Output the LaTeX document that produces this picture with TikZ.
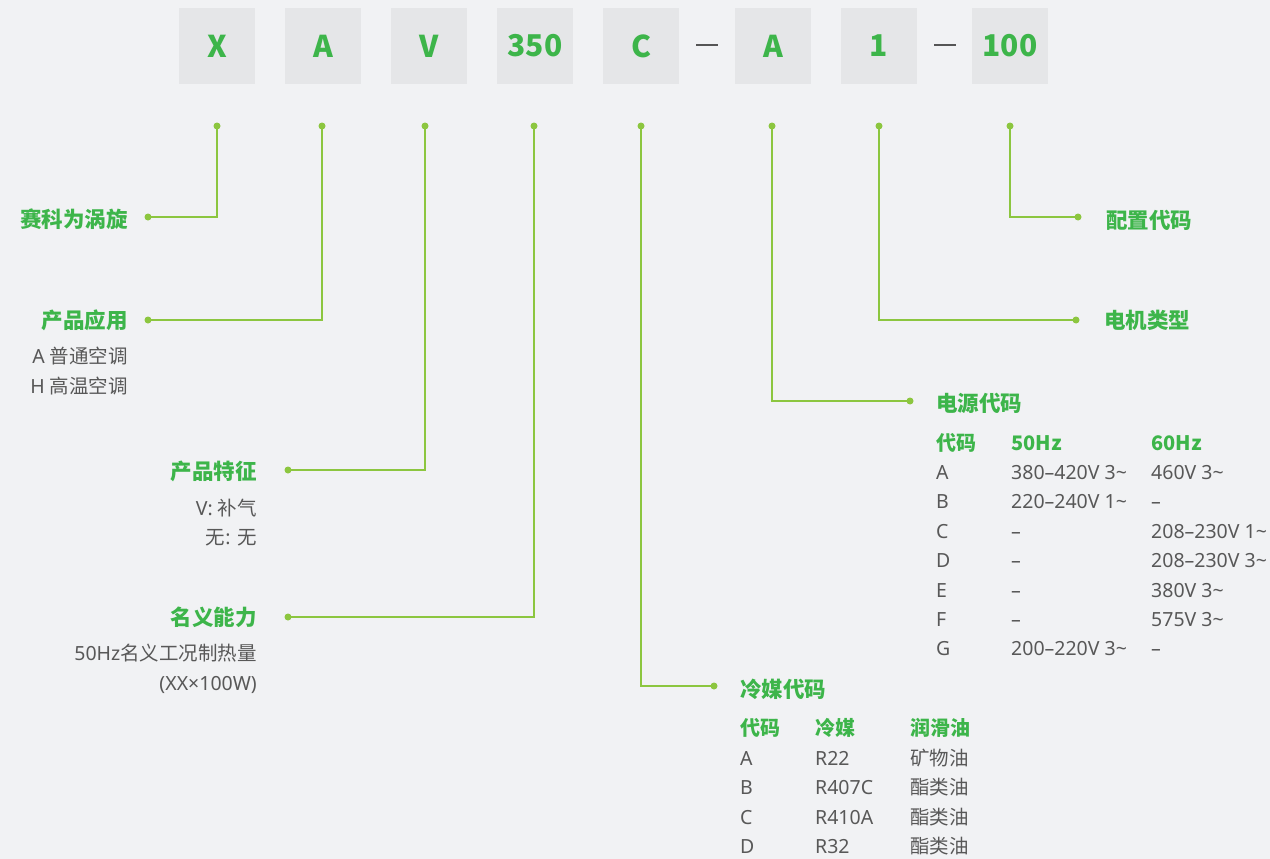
\documentclass[tikz,border=0pt]{standalone}
\usepackage{fontspec}
\setmainfont{Noto Sans CJK SC}
\newfontfamily\latin{Noto Sans}
\definecolor{bg}{HTML}{F1F2F4}
\definecolor{boxc}{HTML}{E5E6E8}
\definecolor{gtext}{HTML}{3DB54A}
\definecolor{gline}{HTML}{8CC63F}
\definecolor{graytext}{HTML}{585858}
\definecolor{dashc}{HTML}{555555}
\newcommand{\tld}{\textasciitilde}
\tikzset{
  codebox/.style={fill=boxc, minimum width=76pt, minimum height=76pt, inner sep=0pt, text=gtext, font=\fontsize{30}{30}\selectfont\bfseries},
  dotn/.style={circle, fill=gline, inner sep=0pt, minimum size=7pt},
  conn/.style={gline, line width=1.2pt},
  title/.style={inner sep=0pt, text=gtext, font=\fontsize{21.5}{24}\selectfont\bfseries},
  sub/.style={inner sep=0pt, text=graytext, font=\fontsize{19.5}{22}\selectfont},
  thead/.style={inner sep=0pt, text=gtext, font=\fontsize{20}{22}\selectfont\bfseries, anchor=base west},
  tcell/.style={inner sep=0pt, text=graytext, font=\latin\fontsize{19.5}{22}\selectfont, anchor=base west},
  tcellc/.style={tcell, font=\fontsize{19.5}{22}\selectfont},
}
\begin{document}
\begin{tikzpicture}[x=1pt,y=-1pt]
\fill[bg] (0,0) rectangle (1270,859);
\useasboundingbox (0,0) rectangle (1270,859);
% code boxes
\node[codebox] (b1) at (217,46) {X};
\node[codebox] (b2) at (323,46) {A};
\node[codebox] (b3) at (429,46) {V};
\node[codebox] (b4) at (535,46) {350};
\node[codebox] (b5) at (641,46) {C};
\node[codebox] (b6) at (773,46) {A};
\node[codebox] (b7) at (879,46) {1};
\node[codebox] (b8) at (1010,46) {100};
\draw[dashc, line width=2.2pt] (696,45) coordinate (da1) -- (718,45) coordinate (da2);
\draw[dashc, line width=2.2pt] (934,45) coordinate (db1) -- (956,45) coordinate (db2);
% top dots
\node[dotn] (t1) at (217,126) {};
\node[dotn] (t2) at (322,126) {};
\node[dotn] (t3) at (425,126) {};
\node[dotn] (t4) at (534,126) {};
\node[dotn] (t5) at (641,126) {};
\node[dotn] (t6) at (772,126) {};
\node[dotn] (t7) at (879,126) {};
\node[dotn] (t8) at (1010,126) {};
% end dots
\node[dotn] (e1) at (148,217) {};
\node[dotn] (e2) at (148,320) {};
\node[dotn] (e3) at (288,470) {};
\node[dotn] (e4) at (288,617) {};
\node[dotn] (e5) at (714,686) {};
\node[dotn] (e6) at (910,401) {};
\node[dotn] (e7) at (1076,320) {};
\node[dotn] (e8) at (1078,217) {};
% connectors
\draw[conn] (t1.center) |- (e1.center);
\draw[conn] (t2.center) |- (e2.center);
\draw[conn] (t3.center) |- (e3.center);
\draw[conn] (t4.center) |- (e4.center);
\draw[conn] (t5.center) |- (e5.center);
\draw[conn] (t6.center) |- (e6.center);
\draw[conn] (t7.center) |- (e7.center);
\draw[conn] (t8.center) |- (e8.center);
% left labels
\node[title, anchor=base east] (l1) at (128,227) {赛科为涡旋};
\node[title, anchor=base east] (l2) at (128,328) {产品应用};
\node[sub, anchor=base east] (l2a) at (128,363) {{\latin A }普通空调};
\node[sub, anchor=base east] (l2b) at (128,393) {{\latin H }高温空调};
\node[title, anchor=base east] (l3) at (257,479) {产品特征};
\node[sub, anchor=base east] (l3a) at (257,515) {{\latin V: }补气};
\node[sub, anchor=base east] (l3b) at (257,544) {无{\latin : }无};
\node[title, anchor=base east] (l4) at (257,625) {名义能力};
\node[sub, anchor=base east] (l4a) at (257,660) {{\latin 50Hz}名义工况制热量};
\node[sub, anchor=base east, font=\latin\fontsize{19.5}{22}\selectfont] (l4b) at (257,690) {(XX×100W)};
% right labels
\node[title, anchor=base west] (l8) at (1106,228) {配置代码};
\node[title, anchor=base west] (l7) at (1104,328) {电机类型};
\node[title, anchor=base west] (l6) at (936,411) {电源代码};
\node[title, anchor=base west] (l5) at (740,697) {冷媒代码};
% power table
\node[thead] (p0a) at (936,450) {代码};
\node[thead] (p0b) at (1011,450) {50Hz};
\node[thead] (p0c) at (1151,450) {60Hz};
\node[tcell] (p1a) at (936,479) {A};
\node[tcell] (p1b) at (1011,479) {380–420V 3\tld};
\node[tcell] (p1c) at (1151,479) {460V 3\tld};
\node[tcell] (p2a) at (936,508) {B};
\node[tcell] (p2b) at (1011,508) {220–240V 1\tld};
\node[tcell] (p2c) at (1151,508) {–};
\node[tcell] (p3a) at (936,538) {C};
\node[tcell] (p3b) at (1011,538) {–};
\node[tcell] (p3c) at (1151,538) {208–230V 1\tld};
\node[tcell] (p4a) at (936,567) {D};
\node[tcell] (p4b) at (1011,567) {–};
\node[tcell] (p4c) at (1151,567) {208–230V 3\tld};
\node[tcell] (p5a) at (936,597) {E};
\node[tcell] (p5b) at (1011,597) {–};
\node[tcell] (p5c) at (1151,597) {380V 3\tld};
\node[tcell] (p6a) at (936,626) {F};
\node[tcell] (p6b) at (1011,626) {–};
\node[tcell] (p6c) at (1151,626) {575V 3\tld};
\node[tcell] (p7a) at (936,655) {G};
\node[tcell] (p7b) at (1011,655) {200–220V 3\tld};
\node[tcell] (p7c) at (1151,655) {–};
% refrigerant table
\node[thead] (r0a) at (740,735) {代码};
\node[thead] (r0b) at (815,735) {冷媒};
\node[thead] (r0c) at (910,735) {润滑油};
\node[tcell] (r1a) at (740,765) {A};
\node[tcell] (r1b) at (815,765) {R22};
\node[tcellc] (r1c) at (910,765) {矿物油};
\node[tcell] (r2a) at (740,794) {B};
\node[tcell] (r2b) at (815,794) {R407C};
\node[tcellc] (r2c) at (910,794) {酯类油};
\node[tcell] (r3a) at (740,824) {C};
\node[tcell] (r3b) at (815,824) {R410A};
\node[tcellc] (r3c) at (910,824) {酯类油};
\node[tcell] (r4a) at (740,853) {D};
\node[tcell] (r4b) at (815,853) {R32};
\node[tcellc] (r4c) at (910,853) {酯类油};
\end{tikzpicture}
\end{document}
